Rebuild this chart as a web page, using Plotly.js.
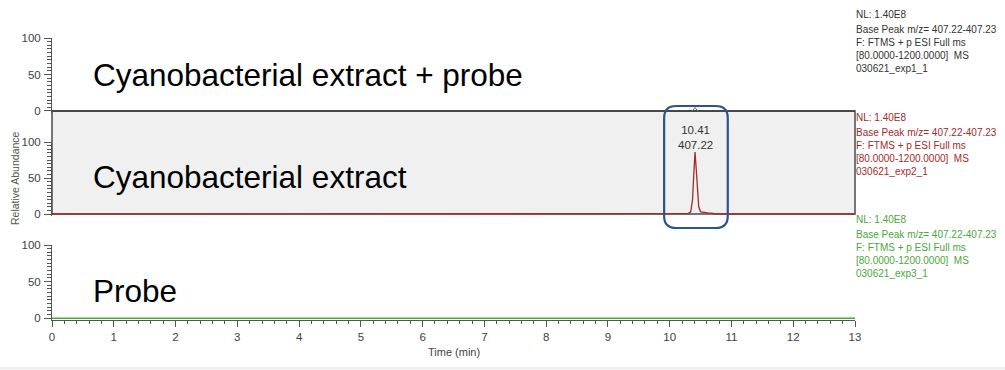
<!DOCTYPE html>
<html>
<head>
<meta charset="utf-8">
<script src="https://cdn.plot.ly/plotly-3.0.1.min.js"></script>
<style>
  html, body { margin: 0; padding: 0; background: #ffffff; }
  #chart { width: 1005px; height: 370px; }
</style>
</head>
<body>
<div id="chart"></div>
<script>
// ---------- data ----------
const time = [0, 1, 2, 3, 4, 5, 6, 7, 8, 9, 10, 10.25, 10.30, 10.34, 10.37, 10.39, 10.41, 10.43, 10.45, 10.47, 10.50, 10.55, 10.62, 10.70, 10.75, 11, 12, 13];
const exp1Abundance = [0, 0, 0, 0, 0, 0, 0, 0, 0, 0, 0, 0, 0, 0, 0, 0, 0, 0, 0, 0, 0, 0, 0, 0, 0, 0, 0, 0];
const exp2Abundance = [0, 0, 0, 0, 0, 0, 0, 0, 0, 0, 0, 0, 0.5, 3, 20, 55, 86, 62, 30, 10, 3, 2, 1.5, 1, 0, 0, 0, 0];
const exp3Abundance = [0, 0, 0, 0, 0, 0, 0, 0, 0, 0, 0, 0, 0, 0, 0, 0, 0, 0, 0, 0, 0, 0, 0, 0, 0, 0, 0, 0];

const panelLabels = ["Cyanobacterial extract + probe", "Cyanobacterial extract", "Probe"];
const peakTime = 10.41;
const peakMz = "407.22";
const infoLines1 = ["NL: 1.40E8", "Base Peak m/z= 407.22-407.23", "F: FTMS + p ESI Full ms", "[80.0000-1200.0000]  MS", "030621_exp1_1"];
const infoLines2 = ["NL: 1.40E8", "Base Peak m/z= 407.22-407.23", "F: FTMS + p ESI Full ms", "[80.0000-1200.0000]  MS", "030621_exp2_1"];
const infoLines3 = ["NL: 1.40E8", "Base Peak m/z= 407.22-407.23", "F: FTMS + p ESI Full ms", "[80.0000-1200.0000]  MS", "030621_exp3_1"];
const xTitle = "Time (min)";
const yTitle = "Relative Abundance";

// ---------- geometry helpers (pixels -> paper) ----------
const W = 1005, H = 370;
const M = {l: 52, r: 150, t: 38, b: 50};
const plotH = H - M.t - M.b;           // 282
const plotW = W - M.l - M.r;           // 803
const py = p => (H - M.b - p) / plotH; // pixel y -> paper y
const px = p => (p - M.l) / plotW;     // pixel x -> paper x

const FONT = "Liberation Sans, Arial, sans-serif";
const AXC = "#555555";
const TICKC = "#3d3d4d";
const C1 = "#333333", C2 = "#a52a2a", C3 = "#4aa83a";

const traces = [
  {x: time, y: exp1Abundance, xaxis: 'x', yaxis: 'y', type: 'scatter', mode: 'lines',
   line: {color: '#3a3a3a', width: 1.6}, hoverinfo: 'skip'},
  {x: time, y: exp2Abundance, xaxis: 'x', yaxis: 'y2', type: 'scatter', mode: 'lines',
   line: {color: C2, width: 1.3}, hoverinfo: 'skip'},
  {x: time, y: exp3Abundance, xaxis: 'x', yaxis: 'y3', type: 'scatter', mode: 'lines',
   line: {color: C3, width: 1.5}, hoverinfo: 'skip'}
];

function yax(domain) {
  return {
    domain: domain, range: [-2.5, 100], anchor: 'x',
    tick0: 0, dtick: 50, ticks: 'outside', ticklen: 7, tickwidth: 1, tickcolor: AXC,
    minor: {tick0: 0, dtick: 5, ticks: 'outside', ticklen: 4, tickcolor: AXC, tickwidth: 1},
    showline: true, linecolor: AXC, linewidth: 1, showgrid: false, zeroline: false,
    tickfont: {family: FONT, size: 11.5, color: TICKC}, ticklabelstandoff: 1,
    fixedrange: true
  };
}

const annotations = [];
// big panel labels
const labelY = [75, 177, 291];
panelLabels.forEach((t, i) => annotations.push({
  text: t, xref: 'paper', yref: 'paper', x: px(91), y: py(labelY[i]),
  xanchor: 'left', yanchor: 'middle', showarrow: false,
  font: {family: FONT, size: 31.5, color: '#000000'}
}));
// right info blocks
const infoSets = [[infoLines1, C1, 14], [infoLines2, C2, 117], [infoLines3, C3, 219]];
const lineOff = [0, 15, 28, 41, 54];
infoSets.forEach(([lines, col, y0]) => lines.forEach((t, j) => annotations.push({
  text: t, xref: 'paper', yref: 'paper', x: px(854), y: py(y0 + lineOff[j]),
  xanchor: 'left', yanchor: 'middle', showarrow: false,
  font: {family: FONT, size: 10, color: col}
})));
// peak label
annotations.push({
  text: peakTime.toFixed(2) + "<br>" + peakMz, xref: 'x', yref: 'paper',
  x: peakTime, y: py(137), xanchor: 'center', yanchor: 'middle', showarrow: false,
  font: {family: FONT, size: 11.5, color: '#333333'}
});
// axis titles
annotations.push({
  text: xTitle, xref: 'paper', yref: 'paper', x: 0.5, y: py(352),
  xanchor: 'center', yanchor: 'middle', showarrow: false,
  font: {family: FONT, size: 11, color: '#444444'}
});
annotations.push({
  text: yTitle, xref: 'paper', yref: 'paper', x: px(15), y: py(178),
  xanchor: 'center', yanchor: 'middle', showarrow: false, textangle: -90,
  font: {family: FONT, size: 10.5, color: '#555555'}
});

// rounded highlight box around the peak
const bx0 = 9.91, bx1 = 10.94, by0 = py(228), by1 = py(106);
const rx = 12 / (plotW / 13), ry = 12 / plotH;
const roundPath =
  `M ${bx0 + rx},${by1} L ${bx1 - rx},${by1} Q ${bx1},${by1} ${bx1},${by1 - ry} ` +
  `L ${bx1},${by0 + ry} Q ${bx1},${by0} ${bx1 - rx},${by0} ` +
  `L ${bx0 + rx},${by0} Q ${bx0},${by0} ${bx0},${by0 + ry} ` +
  `L ${bx0},${by1 - ry} Q ${bx0},${by1} ${bx0 + rx},${by1} Z`;

const shapes = [
  // grey middle panel background
  {type: 'rect', xref: 'paper', yref: 'paper', x0: 0, x1: 1, y0: py(214), y1: py(111),
   fillcolor: '#f0f0f0', line: {color: '#4a4a4a', width: 1.5}, layer: 'below'},
  // small peak caret
  {type: 'path', xref: 'x', yref: 'paper',
   path: `M ${peakTime - 0.05},${py(111.5)} L ${peakTime},${py(107.5)} L ${peakTime + 0.05},${py(111.5)}`,
   line: {color: '#666666', width: 1}},
  // highlight box
  {type: 'path', xref: 'x', yref: 'paper', path: roundPath,
   line: {color: '#2c5291', width: 2.2}, fillcolor: 'rgba(0,0,0,0)'},
  // faint bottom line
  {type: 'rect', xref: 'paper', yref: 'paper', x0: px(0), x1: px(1005), y0: py(369.5), y1: py(367),
   fillcolor: '#eeeeee', line: {width: 0}, layer: 'below'}
];

const layout = {
  width: W, height: H,
  margin: M,
  paper_bgcolor: '#ffffff', plot_bgcolor: 'rgba(0,0,0,0)',
  showlegend: false,
  font: {family: FONT},
  xaxis: {
    domain: [0, 1], range: [0, 13], anchor: 'y3',
    tick0: 0, dtick: 1, ticks: 'outside', ticklen: 6, tickwidth: 1, tickcolor: AXC,
    minor: {tick0: 0, dtick: 0.2, ticks: 'outside', ticklen: 3, tickcolor: AXC, tickwidth: 1},
    showline: true, linecolor: AXC, linewidth: 1, showgrid: false, zeroline: false,
    tickfont: {family: FONT, size: 11.5, color: TICKC}, ticklabelstandoff: 0,
    fixedrange: true
  },
  yaxis: yax([py(112.8), 1]),
  yaxis2: yax([py(215.8), py(142)]),
  yaxis3: yax([0, py(245)]),
  annotations: annotations,
  shapes: shapes
};

Plotly.newPlot('chart', traces, layout, {staticPlot: true, displayModeBar: false});
</script>
</body>
</html>
